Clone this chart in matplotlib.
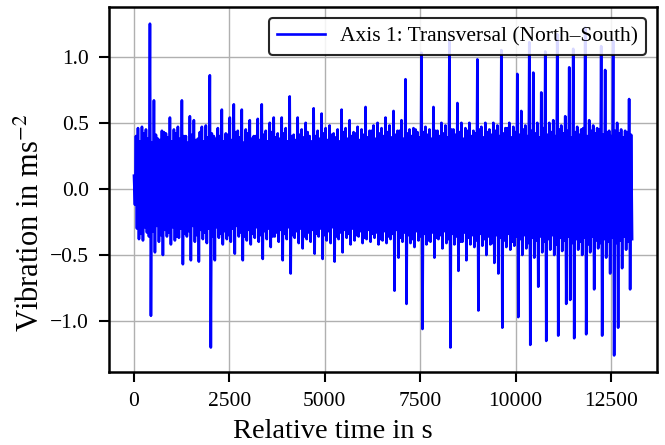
import numpy as np
import matplotlib
matplotlib.use('Agg')
import matplotlib.pyplot as plt
from matplotlib.ticker import MultipleLocator

# values; each cycle k gives
# peaks_a[k], troughs_a[k], peaks_b[k], troughs_b[k] in time order
peaks_a = [0.10, 0.46, 0.47, 0.45, 1.25, 0.67, 0.38, 0.44, 0.42, 0.54,
           0.45, 0.47, 0.67, 0.40, 0.55, 0.52, 0.38, 0.47, 0.48, 0.86,
           0.40, 0.46, 0.60, 0.42, 0.54, 0.64, 0.44, 0.60, 0.45, 0.52,
           0.40, 0.53, 0.64, 0.44, 0.50, 0.54, 0.42, 0.54, 0.46, 0.70,
           0.41, 0.54, 0.45, 0.50, 0.40, 0.61, 0.44, 0.57, 0.46, 0.48,
           0.42, 0.45, 0.60, 0.46, 0.52, 0.43, 0.47, 0.45, 0.62, 0.44,
           0.48, 0.50, 0.46, 0.54, 0.48, 0.59, 0.44, 0.52, 0.83, 0.45,
           0.46, 0.43, 1.03, 0.47, 0.45, 0.62, 0.44, 0.50, 0.48, 1.12,
           0.45, 0.65, 0.50, 0.46, 0.50, 0.44, 0.98, 0.47, 0.50, 0.45,
           0.50, 0.48, 1.05, 0.46, 0.50, 0.47, 0.87, 0.59, 0.48, 1.11,
           0.88, 0.50, 0.73, 1.04, 0.50, 0.52, 1.17, 0.48, 0.55, 0.92,
           1.06, 0.47, 0.45, 1.22, 0.52, 0.48, 0.46, 1.08, 0.90, 0.44,
           1.12, 0.50, 0.45, 0.44, 0.68]
troughs_a = [-0.12, -0.38, -0.39, -0.33, -0.96, -0.48, -0.40, -0.50, -0.36, -0.42,
             -0.39, -0.37, -0.57, -0.36, -0.54, -0.40, -0.55, -0.38, -0.41, -1.20,
             -0.54, -0.37, -0.42, -0.38, -0.40, -0.49, -0.36, -0.54, -0.39, -0.42,
             -0.37, -0.40, -0.53, -0.38, -0.44, -0.36, -0.40, -0.54, -0.38, -0.64,
             -0.37, -0.41, -0.45, -0.38, -0.40, -0.49, -0.36, -0.53, -0.39, -0.41,
             -0.55, -0.38, -0.48, -0.37, -0.42, -0.39, -0.36, -0.41, -0.38, -0.40,
             -0.37, -0.42, -0.39, -0.41, -0.38, -0.77, -0.52, -0.40, -0.87, -0.41,
             -0.44, -0.39, -1.06, -0.42, -0.40, -0.52, -0.38, -0.45, -0.41, -1.20,
             -0.42, -0.62, -0.40, -0.54, -0.42, -0.44, -0.92, -0.43, -0.50, -0.42,
             -0.56, -0.64, -1.05, -0.44, -0.46, -0.43, -0.97, -0.50, -0.45, -1.18,
             -0.52, -0.74, -0.48, -1.15, -0.46, -0.50, -1.11, -0.47, -0.87, -0.84,
             -1.13, -0.46, -0.50, -1.10, -0.48, -0.76, -0.45, -1.11, -0.52, -0.64,
             -1.26, -1.05, -0.60, -0.46, -0.76]
peaks_b = [0.40, 0.36, 0.42, 0.38, 0.35, 0.41, 0.37, 0.43, 0.39, 0.36,
           0.42, 0.38, 0.40, 0.35, 0.41, 0.37, 0.43, 0.36, 0.39, 0.42,
           0.38, 0.40, 0.36, 0.41, 0.37, 0.43, 0.39, 0.35, 0.42, 0.38,
           0.40, 0.37, 0.41, 0.36, 0.43, 0.39, 0.38, 0.42, 0.36, 0.40,
           0.37, 0.41, 0.39, 0.43, 0.36, 0.40, 0.38, 0.42, 0.37, 0.41,
           0.39, 0.36, 0.43, 0.38, 0.40, 0.42, 0.37, 0.41, 0.39, 0.44,
           0.38, 0.42, 0.40, 0.43, 0.39, 0.41, 0.44, 0.38, 0.42, 0.40,
           0.45, 0.39, 0.43, 0.41, 0.38, 0.44, 0.40, 0.42, 0.39, 0.45,
           0.41, 0.43, 0.38, 0.44, 0.40, 0.42, 0.45, 0.39, 0.43, 0.41,
           0.44, 0.40, 0.42, 0.46, 0.39, 0.43, 0.41, 0.45, 0.40, 0.44,
           0.42, 0.39, 0.46, 0.41, 0.43, 0.40, 0.45, 0.42, 0.44, 0.39,
           0.43, 0.41, 0.46, 0.40, 0.44, 0.42, 0.45, 0.41, 0.43, 0.40,
           0.44, 0.42, 0.39, 0.43, 0.41]
troughs_b = [-0.30, -0.34, -0.29, -0.36, -0.32, -0.28, -0.35, -0.31, -0.33, -0.29,
             -0.36, -0.30, -0.34, -0.32, -0.28, -0.35, -0.31, -0.33, -0.30, -0.36,
             -0.29, -0.34, -0.32, -0.35, -0.30, -0.28, -0.33, -0.36, -0.31, -0.34,
             -0.29, -0.35, -0.32, -0.30, -0.36, -0.33, -0.31, -0.34, -0.29, -0.35,
             -0.32, -0.30, -0.36, -0.33, -0.31, -0.34, -0.30, -0.35, -0.32, -0.29,
             -0.36, -0.33, -0.31, -0.34, -0.30, -0.35, -0.32, -0.37, -0.31, -0.34,
             -0.33, -0.38, -0.32, -0.36, -0.34, -0.31, -0.37, -0.33, -0.35, -0.38,
             -0.32, -0.36, -0.34, -0.39, -0.33, -0.37, -0.35, -0.32, -0.38, -0.34,
             -0.36, -0.40, -0.33, -0.37, -0.35, -0.39, -0.34, -0.38, -0.36, -0.41,
             -0.35, -0.37, -0.39, -0.34, -0.40, -0.36, -0.38, -0.35, -0.41, -0.37,
             -0.39, -0.36, -0.40, -0.38, -0.35, -0.42, -0.37, -0.39, -0.36, -0.41,
             -0.38, -0.40, -0.37, -0.42, -0.36, -0.39, -0.41, -0.38, -0.40, -0.37,
             -0.41, -0.39, -0.36, -0.40, -0.38]
dt = 26.15  # s between samples

signal = np.empty(4 * len(peaks_a))
signal[0::4] = peaks_a
signal[1::4] = troughs_a
signal[2::4] = peaks_b
signal[3::4] = troughs_b
time = np.arange(len(signal)) * dt

plt.rcParams['font.family'] = ['Liberation Serif', 'DejaVu Serif']
plt.rcParams['mathtext.fontset'] = 'stix'

fig = plt.figure(figsize=(6.65, 4.45), dpi=100)
ax = fig.add_axes([0.164, 0.164, 0.824, 0.820])

ax.plot(time, signal, color='blue', lw=1.9, label='Axis 1: Transversal (North–South)')
ax.grid(True, color='#b0b0b0', lw=1.0)
ax.set_axisbelow(True)
ax.xaxis.set_major_locator(MultipleLocator(2500))

# labels are centred on the figure, not on the axes
fig.supxlabel('Relative time in s', fontsize=20.5, y=0.002, va='bottom')
fig.supylabel('Vibration in ms$^{-2}$', fontsize=22, x=0.025, va='center')
ax.tick_params(labelsize=15.5, length=7, width=1.5, pad=7.5)
for s in ax.spines.values():
    s.set_linewidth(1.8)

leg = ax.legend(loc='upper right', fontsize=15.5, framealpha=0.85,
                borderaxespad=0.5, handlelength=2.2, handletextpad=0.7)
leg.get_frame().set_edgecolor('black')
leg.get_frame().set_linewidth(1.5)

fig.savefig('out.png', dpi=100)
